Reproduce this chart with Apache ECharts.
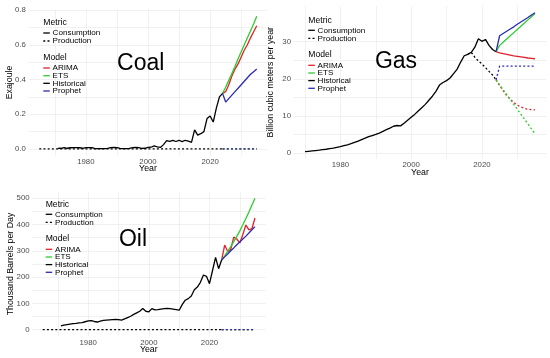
<!DOCTYPE html>
<html><head><meta charset="utf-8">
<script src="https://cdn.jsdelivr.net/npm/echarts@6/dist/echarts.min.js"></script>
<style>html,body{margin:0;padding:0;background:#fff}#c{width:550px;height:358px}</style>
</head><body><div id="c"></div>
<script>
// ---------------- DATA ----------------
const histYears1971 = [1971,1972,1973,1974,1975,1976,1977,1978,1979,1980,
  1981,1982,1983,1984,1985,1986,1987,1988,1989,1990,
  1991,1992,1993,1994,1995,1996,1997,1998,1999,2000,
  2001,2002,2003,2004,2005,2006,2007,2008,2009,2010,
  2011,2012,2013,2014,2015,2016,2017,2018,2019,2020,
  2021,2022,2023,2024];
const histYears1970 = [1970].concat(histYears1971);
const prodYears1965 = [1965,1966,1967,1968,1969,1970].concat(histYears1971);
const forecastYears = [2024,2025,2026,2027,2028,2029,2030,2031,2032,2033,2034,2035];

// Coal (Exajoule)
const coalConsumption = [0.003,0.004,0.008,0.004,0.007,0.008,0.008,0.007,0.004,0.008,
  0.008,0.007,0.002,0.002,0.002,0.002,0.003,0.008,0.009,0.008,
  0.003,0.002,0.002,0.003,0.008,0.009,0.008,0.003,0.004,0.009,
  0.010,0.018,0.012,0.009,0.025,0.048,0.044,0.050,0.043,0.050,
  0.042,0.050,0.045,0.038,0.110,0.080,0.088,0.100,0.175,0.190,
  0.155,0.235,0.300,0.320];
const coalProduction = [0,0,0,0,0,0,0,0,0,0,0,0,0,0,0,0,0,0,0,0,0,0,0,0,0,0,0,0,0,0,
  0,0,0,0,0,0,0,0,0,0,0,0,0,0,0,0,0,0,0,0,0,0,0,0,0,0,0,0,0,0];
const coalArimaCons   = [0.320,0.330,0.370,0.420,0.460,0.490,0.530,0.570,0.600,0.640,0.675,0.710];
const coalEtsCons     = [0.320,0.355,0.395,0.435,0.475,0.520,0.560,0.600,0.640,0.680,0.720,0.765];
const coalProphetCons = [0.320,0.270,0.290,0.310,0.330,0.350,0.370,0.390,0.410,0.430,0.445,0.460];
const coalArimaProd   = [0,0,0,0,0,0,0,0,0,0,0,0];
const coalEtsProd     = [0,0,0,0,0,0,0,0,0,0,0,0];
const coalProphetProd = [0,0,0,0,0,0,0,0,0,0,0,0];

// Gas (Billion cubic meters per year)
const gasConsumption = [0.35,0.45,0.55,0.65,0.75,0.9,1.0,1.15,1.3,1.5,
  1.7,1.95,2.2,2.5,2.85,3.2,3.6,4.0,4.4,4.7,
  5.0,5.35,5.8,6.3,6.7,7.2,7.4,7.3,8.0,8.8,
  9.6,10.4,11.3,12.2,13.1,14.2,15.3,16.6,18.3,19.0,
  19.5,20.2,21.4,22.6,24.5,26.2,26.6,27.1,28.5,30.8,
  30.1,30.6,29.0,27.9,27.3];
const gasProdYears = [2016,2017,2018,2019,2020,2021,2022,2023,2024];
const gasProduction = [26.6,27.1,25.8,24.8,24.0,23.0,22.0,21.0,19.7];
const gasArimaCons   = [27.3,27.0,26.8,26.6,26.4,26.2,26.05,25.9,25.75,25.6,25.5,25.4];
const gasEtsCons     = [27.3,29.0,29.86,30.72,31.58,32.44,33.3,34.16,35.02,35.88,36.74,37.6];
const gasProphetCons = [27.3,31.6,32.2,32.8,33.4,34.0,34.7,35.3,35.9,36.5,37.2,37.8];
const gasArimaProd   = [19.7,18.2,16.8,15.5,14.5,13.6,12.9,12.4,12.0,11.8,11.7,11.6];
const gasEtsProd     = [19.7,18.38,17.06,15.74,14.42,13.1,11.78,10.46,9.14,7.82,6.5,5.18];
const gasProphetProd = [19.7,23.4,23.4,23.4,23.4,23.4,23.4,23.4,23.4,23.4,23.4,23.4];

// Oil (Thousand Barrels per Day)
const oilConsumption = [14,17,19,21,23,24,26,27,30,33,
  34,31,29,32,35,36,37,38,39,38,
  36,41,46,51,58,64,70,80,70,68,
  80,75,76,78,80,81,80,78,76,74,
  95,112,118,128,152,162,180,208,203,175,
  225,275,232,265];
const oilProduction = [0,0,0,0,0,0,0,0,0,0,0,0,0,0,0,0,0,0,0,0,0,0,0,0,0,0,0,0,0,0,
  0,0,0,0,0,0,0,0,0,0,0,0,0,0,0,0,0,0,0,0,0,0,0,0,0,0,0,0,0,0];
const oilArimaCons   = [265,322,297,305,352,345,330,362,398,380,385,425];
const oilEtsCons     = [265,281,298,316,335,355,376,399,423,448,474,500];
const oilProphetCons = [265,277,288,300,311,323,334,345,356,368,380,392];
const oilArimaProd   = [0,0,0,0,0,0,0,0,0,0,0,0];
const oilEtsProd     = [0,0,0,0,0,0,0,0,0,0,0,0];
const oilProphetProd = [0,0,0,0,0,0,0,0,0,0,0,0];

// Tick labels
const xMajorTicks = [1980,2000,2020];
const xMinorTicks = [1970,1990,2010,2030];
const coalYTicks = [0,0.2,0.4,0.6,0.8];
const gasYTicks = [0,10,20,30];
const oilYTicks = [0,100,200,300,400,500];
const panelTitles = ['Coal','Gas','Oil'];
const yTitles = ['Exajoule','Billion cubic meters per year','Thousand Barrels per Day'];
const metricLabels = ['Consumption','Production'];
const modelLabels = ['ARIMA','ETS','Historical','Prophet'];

// ---------------- STYLE ----------------
const FONT = '"Liberation Sans", Arial, Helvetica, sans-serif';
const COL = {ARIMA:'#e3202a', ETS:'#2ecc2e', Historical:'#000000', Prophet:'#2a2ab4'};
const GRIDC = '#ebebeb';

function expand(lo, hi, f){ const p=(hi-lo)*f; return [lo-p, hi+p]; }
function ext(arrs){ let lo=Infinity, hi=-Infinity; arrs.forEach(a=>a.forEach(v=>{if(v<lo)lo=v;if(v>hi)hi=v;})); return [lo,hi]; }
function minors(major){ const out=[]; for(let i=0;i<major.length-1;i++) out.push((major[i]+major[i+1])/2); return out; }

const panels = [
  { grid:{left:28.4, top:9.5, width:239.2, height:146.1},
    x: expand(1965,2035,0.05),
    y: expand.apply(null, ext([coalConsumption,coalProduction,coalArimaCons,coalEtsCons,coalProphetCons]).concat([0.05])),
    yMajor: coalYTicks, fmt: v=>v.toFixed(1) },
  { grid:{left:293.5, top:5.8, width:253, height:152.8},
    x: expand(1970,2035,0.05),
    y: expand.apply(null, ext([gasConsumption,gasProduction,gasArimaCons,gasEtsCons,gasProphetCons,gasArimaProd,gasEtsProd,gasProphetProd]).concat([0.05])),
    yMajor: gasYTicks, fmt: v=>String(v) },
  { grid:{left:32.1, top:191.7, width:233.5, height:144.5},
    x: expand(1965,2035,0.05),
    y: expand.apply(null, ext([oilConsumption,oilProduction,oilArimaCons,oilEtsCons,oilProphetCons]).concat([0.05])),
    yMajor: oilYTicks, fmt: v=>String(v) }
];

const grids=[], xAxes=[], yAxes=[];
panels.forEach((p,i)=>{
  grids.push(Object.assign({containLabel:false}, p.grid));
  xAxes.push({type:'value', gridIndex:i, min:p.x[0], max:p.x[1],
    axisLine:{show:false},
    axisTick:{show:false, customValues: xMajorTicks.concat(xMinorTicks).sort((a,b)=>a-b)},
    axisLabel:{customValues:xMajorTicks, formatter:v=>String(v), fontSize:7.8, color:'#4d4d4d', fontFamily:FONT, margin:2.5},
    splitLine:{show:true, lineStyle:{color:GRIDC, width:0.7}}});
  yAxes.push({type:'value', gridIndex:i, min:p.y[0], max:p.y[1],
    axisLine:{show:false},
    axisTick:{show:false, customValues: p.yMajor.concat(minors(p.yMajor)).sort((a,b)=>a-b)},
    axisLabel:{customValues:p.yMajor, formatter:p.fmt, fontSize:7.8, color:'#4d4d4d', fontFamily:FONT, margin:2.5},
    splitLine:{show:true, lineStyle:{color:GRIDC, width:0.7}}});
});

function mk(gi, xs, ys, color, dotted, z){
  return {type:'line', xAxisIndex:gi, yAxisIndex:gi, data: xs.map((x,k)=>[x,ys[k]]),
    showSymbol:false, symbol:'none', silent:true, clip:false, z:z, animation:false,
    lineStyle:{color:color, width:1.3, type: dotted ? [2,2.2] : 'solid', cap:'butt'},
    itemStyle:{color:color}};
}

const series = [];
// Coal (panel 0)
series.push(mk(0, forecastYears, coalArimaProd, COL.ARIMA, true, 2));
series.push(mk(0, forecastYears, coalArimaCons, COL.ARIMA, false, 2));
series.push(mk(0, forecastYears, coalEtsProd, COL.ETS, true, 3));
series.push(mk(0, forecastYears, coalEtsCons, COL.ETS, false, 3));
series.push(mk(0, prodYears1965, coalProduction, COL.Historical, true, 4));
series.push(mk(0, histYears1971, coalConsumption, COL.Historical, false, 4));
series.push(mk(0, forecastYears, coalProphetProd, COL.Prophet, true, 5));
series.push(mk(0, forecastYears, coalProphetCons, COL.Prophet, false, 5));
// Gas (panel 1)
series.push(mk(1, forecastYears, gasArimaProd, COL.ARIMA, true, 2));
series.push(mk(1, forecastYears, gasArimaCons, COL.ARIMA, false, 2));
series.push(mk(1, forecastYears, gasEtsProd, COL.ETS, true, 3));
series.push(mk(1, forecastYears, gasEtsCons, COL.ETS, false, 3));
series.push(mk(1, gasProdYears, gasProduction, COL.Historical, true, 4));
series.push(mk(1, histYears1970, gasConsumption, COL.Historical, false, 4));
series.push(mk(1, forecastYears, gasProphetProd, COL.Prophet, true, 5));
series.push(mk(1, forecastYears, gasProphetCons, COL.Prophet, false, 5));
// Oil (panel 2)
series.push(mk(2, forecastYears, oilArimaProd, COL.ARIMA, true, 2));
series.push(mk(2, forecastYears, oilArimaCons, COL.ARIMA, false, 2));
series.push(mk(2, forecastYears, oilEtsProd, COL.ETS, true, 3));
series.push(mk(2, forecastYears, oilEtsCons, COL.ETS, false, 3));
series.push(mk(2, prodYears1965, oilProduction, COL.Historical, true, 4));
series.push(mk(2, histYears1971, oilConsumption, COL.Historical, false, 4));
series.push(mk(2, forecastYears, oilProphetProd, COL.Prophet, true, 5));
series.push(mk(2, forecastYears, oilProphetCons, COL.Prophet, false, 5));

// ---------------- TEXT / LEGENDS ----------------
const graphics = [];
function txt(x,y,s,size,opts){
  graphics.push(Object.assign({type:'text', x:x, y:y, silent:true, z:50,
    style:{text:s, fontSize:size, fontFamily:FONT, fill:'#000', align:'left', verticalAlign:'middle'}}, opts||{}));
}
// Panel titles
const titlePos = [[140.7,63.3],[396,61.7],[133,239.3]];
panelTitles.forEach((t,i)=>{
  graphics.push({type:'text', x:titlePos[i][0], y:titlePos[i][1], silent:true, z:50,
    style:{text:t, fontSize:23, fontFamily:FONT, fill:'#000', align:'center', verticalAlign:'middle'}});
});
// Axis titles
const yTitlePos = [[9.5,82.5],[270.5,82.2],[11,264]];
yTitles.forEach((t,i)=>{
  graphics.push({type:'text', x:yTitlePos[i][0], y:yTitlePos[i][1], rotation:Math.PI/2, silent:true, z:50,
    style:{text:t, fontSize:8.8, fontFamily:FONT, fill:'#000', align:'center', verticalAlign:'middle'}});
});
const xTitlePos = [[148,168.3],[420,173],[148.8,350]];
xTitlePos.forEach(p=>{
  graphics.push({type:'text', x:p[0], y:p[1], silent:true, z:50,
    style:{text:'Year', fontSize:8.8, fontFamily:FONT, fill:'#000', align:'center', verticalAlign:'middle'}});
});
// Legends
const legendOrigins = [[43.3,23],[308.3,20.3],[45.7,204.3]];
const rowOff = {title1:0, m0:10, m1:18, title2:34.5, d0:45, d1:52.7, d2:60.3, d3:68};
legendOrigins.forEach(o=>{
  const x0=o[0], y0=o[1];
  txt(x0, y0+rowOff.title1, 'Metric', 8.6);
  metricLabels.forEach((m,k)=>{
    const yy = y0 + (k===0?rowOff.m0:rowOff.m1);
    graphics.push({type:'line', silent:true, z:50, shape:{x1:x0, y1:yy, x2:x0+6.5, y2:yy},
      style:{stroke:'#000', lineWidth:1.3, lineDash: k===0?null:[2,2.2]}});
    txt(x0+9.3, yy, m, 8.1);
  });
  txt(x0, y0+rowOff.title2, 'Model', 8.6);
  modelLabels.forEach((m,k)=>{
    const yy = y0 + [rowOff.d0,rowOff.d1,rowOff.d2,rowOff.d3][k];
    graphics.push({type:'line', silent:true, z:50, shape:{x1:x0, y1:yy, x2:x0+6.5, y2:yy},
      style:{stroke:COL[m], lineWidth:1.3}});
    txt(x0+9.3, yy, m, 8.1);
  });
});

const chart = echarts.init(document.getElementById('c'), null, {renderer:'canvas'});
chart.setOption({
  animation:false,
  backgroundColor:'#ffffff',
  textStyle:{fontFamily:FONT},
  grid:grids, xAxis:xAxes, yAxis:yAxes, series:series, graphic:graphics
});
</script></body></html>
